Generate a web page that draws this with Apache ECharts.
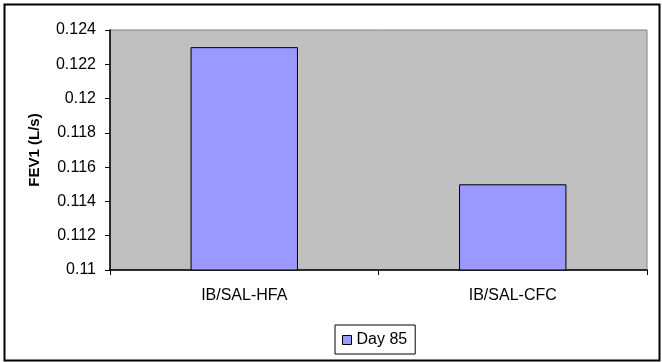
<!DOCTYPE html>
<html><head><meta charset="utf-8">
<script src="https://cdn.jsdelivr.net/npm/echarts@6/dist/echarts.min.js"></script>
<style>html,body{margin:0;padding:0;background:#fff}#c{width:662px;height:362px}</style>
</head><body><div id="c"></div>
<script>
var categories = ['IB/SAL-HFA', 'IB/SAL-CFC'];
var day85 = [0.123, 0.115];
var seriesName = 'Day 85';
var yMin = 0.11, yMax = 0.124, yStep = 0.002;

var chart = echarts.init(document.getElementById('c'));
chart.setOption({
  animation: false,
  graphic: [{
    type: 'rect', left: 2, top: 2,
    shape: {width: 655, height: 356},
    style: {fill: 'none', stroke: '#000', lineWidth: 2}
  }],
  grid: {left: 110, top: 30, right: 15, bottom: 92, show: true, backgroundColor: '#C0C0C0', borderColor: '#808080', borderWidth: 1},
  legend: {
    bottom: 8, left: 335, itemWidth: 9, itemHeight: 9, itemGap: 5,
    padding: [7, 8, 6, 7], borderColor: '#000', borderWidth: 1, borderRadius: 0,
    icon: 'rect',
    textStyle: {fontFamily: 'Liberation Sans', fontSize: 16, color: '#000'},
    data: [{name: seriesName, itemStyle: {borderColor: '#000', borderWidth: 1}}]
  },
  xAxis: {
    type: 'category', data: categories,
    axisLine: {lineStyle: {color: '#000', width: 1.5}},
    axisTick: {show: true, length: 5, lineStyle: {color: '#000'}},
    axisLabel: {fontFamily: 'Liberation Sans', fontSize: 16, color: '#000', margin: 18},
    splitLine: {show: false}
  },
  yAxis: {
    type: 'value', min: yMin, max: yMax, interval: yStep,
    name: 'FEV1 (L/s)', nameLocation: 'middle', nameGap: 68, nameRotate: 90,
    nameTextStyle: {fontFamily: 'Liberation Sans', fontSize: 15, fontWeight: 'bold', color: '#000'},
    axisLine: {show: true, lineStyle: {color: '#000', width: 1.5}},
    axisTick: {show: true, length: 5, lineStyle: {color: '#000'}},
    axisLabel: {fontFamily: 'Liberation Sans', fontSize: 16, color: '#000', margin: 14,
      formatter: function(v){ return String(parseFloat(v.toFixed(3))); }},
    splitLine: {show: false}
  },
  series: [{
    name: seriesName, type: 'bar', data: day85, barWidth: '40%',
    itemStyle: {color: '#9999FF', borderColor: '#000', borderWidth: 1}
  }]
});
</script></body></html>
